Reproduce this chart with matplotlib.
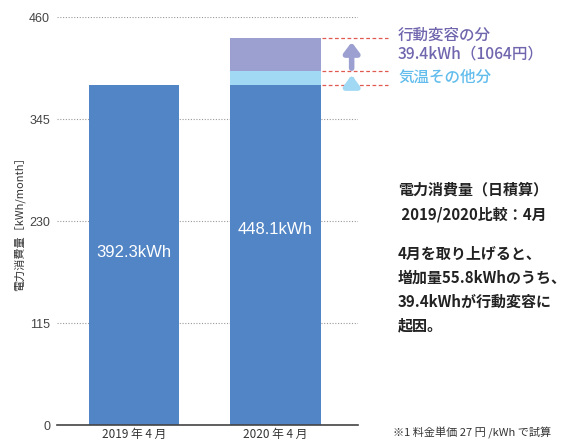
import matplotlib
matplotlib.use('Agg')
import matplotlib.pyplot as plt

plt.rcParams['font.family'] = ['Noto Sans CJK JP', 'DejaVu Sans']

# データ（グラフの目盛りで読んだ値）
meses = ['2019 年 4 月', '2020 年 4 月']
base = [383.3, 383.3]
kion = [0, 15.8]
koudou = [0, 37.2]
rotulos_barra = ['392.3kWh', '448.1kWh']
yticks = [0, 115, 230, 345, 460]

azul = '#5185c5'
azul_claro = '#a1d8f4'
roxo = '#9ba0d0'
texto_roxo = '#6f66ae'
texto_azul = '#62bdec'

fig = plt.figure(figsize=(5.7, 4.41), dpi=100)
ax = fig.add_axes([57 / 570, 1 - 425 / 441, 301 / 570, 408 / 441])

x = [0, 1]
ax.bar(x, base, width=0.64, color=azul, zorder=2)
ax.bar(x, kion, width=0.64, bottom=base, color=azul_claro, zorder=2)
topo_kion = [b + k for b, k in zip(base, kion)]
ax.bar(x, koudou, width=0.64, bottom=topo_kion, color=roxo, zorder=2)

ax.set_xlim(-0.546, 1.585)
ax.set_ylim(0, 460)
ax.set_yticks(yticks)
ax.set_yticklabels([str(v) for v in yticks], family=['Liberation Sans'])
ax.set_xticks(x)
ax.set_xticklabels(meses, fontsize=8.5, color='#333333')
ax.tick_params(axis='y', length=0, labelsize=9, colors='#444444', pad=5)
ax.tick_params(axis='x', length=0, pad=2)
ax.grid(axis='y', linestyle=(0, (1, 1.5)), color='#999999', linewidth=0.8, zorder=0)
for s in ['top', 'right', 'left']:
    ax.spines[s].set_visible(False)
ax.spines['bottom'].set_color('#444444')
ax.spines['bottom'].set_linewidth(1.2)
ax.set_ylabel('電力消費量［kWh/month］', fontsize=8, color='#333333')
ax.yaxis.set_label_coords((25 - 57) / 301, 0.5)

# ラベル
ax.text(0, 194, rotulos_barra[0], color='white', fontsize=12, ha='center', va='center',
        family=['Liberation Sans'])
ax.text(1, 220, rotulos_barra[1], color='white', fontsize=12, ha='center', va='center',
        family=['Liberation Sans'])

# 赤い点線と矢印
topo_total = topo_kion[1] + koudou[1]
for yv in [base[1], topo_kion[1], topo_total]:
    ax.plot([1.33, 1.8], [yv, yv], color='#e05a50', linestyle=(0, (3, 2)),
            linewidth=0.9, clip_on=False)
ax.annotate('', xy=(1.54, topo_total - 1.5), xytext=(1.54, topo_kion[1]),
            arrowprops=dict(arrowstyle='-|>,head_width=0.45,head_length=0.6',
                            color=roxo, lw=4), annotation_clip=False)
ax.annotate('', xy=(1.54, topo_kion[1] - 1.5), xytext=(1.54, base[1]),
            arrowprops=dict(arrowstyle='-|>,head_width=0.45,head_length=0.6',
                            color=azul_claro, lw=4), annotation_clip=False)

fig.text(398 / 570, 1 - 35 / 441, '行動変容の分', color=texto_roxo, fontsize=11.2,
         fontweight='medium', va='center')
fig.text(398 / 570, 1 - 54 / 441, '39.4kWh（1064円）', color=texto_roxo, fontsize=11.2,
         fontweight='medium', va='center')
fig.text(398 / 570, 1 - 77 / 441, '気温その他分', color=texto_azul, fontsize=11.2,
         fontweight='medium', va='center')

linhas = ['電力消費量（日積算）', ' 2019/2020比較：4月', '',
          '4月を取り上げると、', '増加量55.8kWhのうち、', '39.4kWhが行動変容に', '起因。']
ys = [189, 214, 0, 254, 278, 302, 325]
for t, yy in zip(linhas, ys):
    if t:
        fig.text(398 / 570, 1 - yy / 441, t, fontsize=10.8, fontweight='bold',
                 color='#222222', va='center')

fig.text(393 / 570, 1 - 433 / 441, '※1 料金単価 27 円 /kWh で試算', fontsize=8,
         color='#333333', va='center')

fig.savefig('out.png', dpi=100)
